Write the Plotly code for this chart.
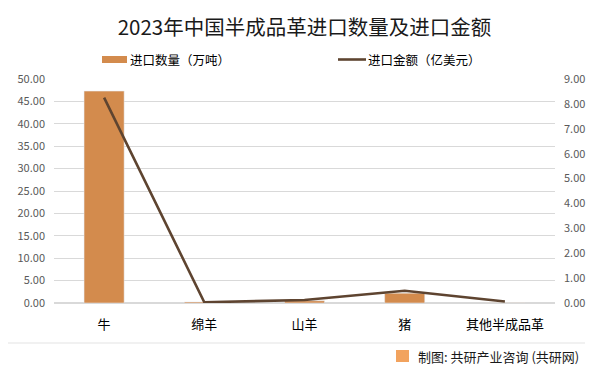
import plotly.graph_objects as go

categories = ["牛", "绵羊", "山羊", "猪", "其他半成品革"]
quantity = [47.3, 0.25, 0.5, 2.2, 0.05]      # 进口数量（万吨）
amount = [8.25, 0.03, 0.12, 0.49, 0.06]      # 进口金额（亿美元）
left_ticks = [0, 5, 10, 15, 20, 25, 30, 35, 40, 45, 50]
right_ticks = [0, 1, 2, 3, 4, 5, 6, 7, 8, 9]

FONT = "Noto Sans CJK SC"
BAR_COLOR = "#D38B4D"
LINE_COLOR = "#5E4430"
OFF = 8  # default page body margin
W, H = 601 - OFF, 376 - OFF
L, R, T, B = 54 - OFF, 46, 79 - OFF, 73
PW, PH = W - L - R, H - T - B


def px(x):
    """reference page x -> paper coordinate"""
    return (x - OFF - L) / PW


def py(y):
    """reference page y -> paper coordinate"""
    return (H - B - (y - OFF)) / PH


fig = go.Figure()
fig.add_trace(go.Bar(x=categories, y=quantity, name="进口数量（万吨）",
                     marker_color=BAR_COLOR, yaxis="y"))
fig.add_trace(go.Scatter(x=categories, y=amount, name="进口金额（亿美元）",
                         mode="lines", line=dict(color=LINE_COLOR, width=2.6),
                         yaxis="y2"))

fig.update_layout(
    width=W, height=H,
    margin=dict(l=L, r=R, t=T, b=B, autoexpand=False),
    paper_bgcolor="white", plot_bgcolor="white",
    font=dict(family=FONT, color="#000000"),
    bargap=0.6,
    showlegend=False,
    title=dict(text="2023年中国半成品革进口数量及进口金额", x=0.5, xanchor="center",
               xref="paper", y=1 - (28 - OFF) / H, yanchor="middle",
               font=dict(size=20.5, family=FONT, color="#1a1a1a")),
    xaxis=dict(showline=False, ticks="", tickfont=dict(size=13, color="#000"),
               showgrid=False, ticklabelstandoff=12),
    yaxis=dict(range=[0, 50], tickvals=left_ticks,
               ticktext=[f"{v:.2f}" for v in left_ticks],
               showgrid=True, gridcolor="#D9D9D9", gridwidth=1, zeroline=True,
               zerolinecolor="#D9D9D9", tickfont=dict(size=11, color="#595959"),
               ticks="", showline=False, ticklabelstandoff=8),
    yaxis2=dict(range=[0, 9], tickvals=right_ticks,
                ticktext=[f"{v:.2f}" for v in right_ticks],
                overlaying="y", side="right", showgrid=False, zeroline=False,
                tickfont=dict(size=11, color="#595959"), ticks="", showline=False,
                ticklabelstandoff=8),
)

# legend (drawn manually to keep plot area fixed)
fig.add_shape(type="rect", xref="paper", yref="paper",
              x0=px(102), x1=px(127), y0=py(63), y1=py(56),
              fillcolor=BAR_COLOR, line=dict(width=0))
fig.add_annotation(text="进口数量（万吨）", xref="paper", yref="paper",
                   x=px(128), y=py(59.5), xanchor="left", yanchor="middle",
                   showarrow=False, font=dict(size=12.5, family=FONT, color="#000"))
fig.add_shape(type="line", xref="paper", yref="paper",
              x0=px(338), x1=px(366), y0=py(59.5), y1=py(59.5),
              line=dict(color=LINE_COLOR, width=2.6))
fig.add_annotation(text="进口金额（亿美元）", xref="paper", yref="paper",
                   x=px(366), y=py(59.5), xanchor="left", yanchor="middle",
                   showarrow=False, font=dict(size=12.5, family=FONT, color="#000"))

# footer
fig.add_shape(type="line", xref="paper", yref="paper", x0=px(8), x1=px(585),
              y0=py(343), y1=py(343), line=dict(color="#E3E3E3", width=1))
fig.add_annotation(text="制图: 共研产业咨询 (共研网)", xref="paper", yref="paper",
                   x=px(416), y=py(356), xanchor="left", yanchor="middle",
                   showarrow=False, font=dict(size=13, family=FONT, color="#1a1a1a"))
fig.add_shape(type="rect", xref="paper", yref="paper",
              x0=px(396), x1=px(409), y0=py(362), y1=py(350),
              fillcolor="#F2A35E", line=dict(width=0))

fig.write_html("out.html")
